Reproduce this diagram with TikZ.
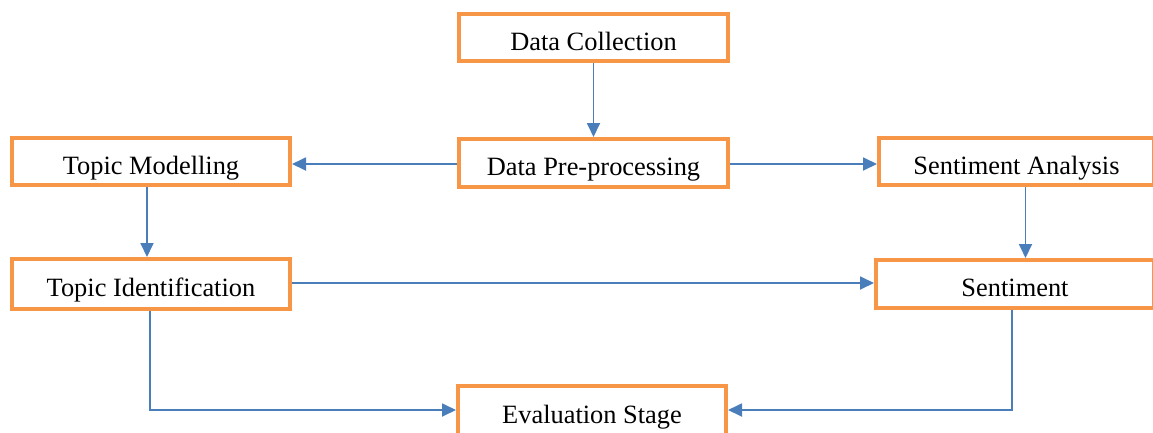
\documentclass[tikz,border=0pt]{standalone}
\usepackage{fontspec}
\setmainfont{Liberation Serif}
\usetikzlibrary{arrows.meta}
\definecolor{boxorange}{HTML}{F79646}
\definecolor{linkblue}{HTML}{4A7EBB}
\tikzset{
  stage/.style={draw=boxorange, line width=4pt, fill=white, inner sep=0pt,
    text height=25pt, text depth=0pt, minimum height=47pt,
    font=\fontsize{26.4}{30}\selectfont},
  link/.style={draw=linkblue, line width=1.8pt,
    -{Triangle[length=14pt,width=13pt]}}
}
\begin{document}
\begin{tikzpicture}[x=1pt,y=-1pt]
\useasboundingbox (0,0) rectangle (1153,432);
\clip (0,0) rectangle (1153,432);
\node[stage, minimum width=269pt] (dc) at (593.5,37.5) {Data Collection};
\node[stage, minimum width=269pt, minimum height=48pt] (pp) at (593.5,163) {Data Pre-processing};
\node[stage, minimum width=278pt] (tm) at (151,161.5) {Topic Modelling};
\node[stage, minimum width=275pt] (sa) at (1016.5,161.5) {Sentiment Analysis};
\node[stage, minimum width=278pt, minimum height=50pt] (ti) at (151,284) {Topic Identification};
\node[stage, minimum width=278pt, minimum height=48pt] (se) at (1015,284) {Sentiment};
\node[stage, minimum width=268pt, minimum height=50pt] (ev) at (592,411) {Evaluation Stage};

\draw[link] (dc.south) -- (pp.north);
\draw[link] ([yshift=-1pt]pp.west) -- ([yshift=-1pt]pp.west -| tm.east);
\draw[link] ([yshift=-1pt]pp.east) -- ([yshift=-1pt]pp.east -| sa.west);
\draw[link] ([xshift=-4pt]tm.south) -- ([xshift=-4pt]ti.north);
\draw[link] ([xshift=9pt]sa.south) -- ([xshift=9pt]sa.south |- se.north);
\draw[link] ([yshift=1pt]ti.east) -- ([yshift=1pt]ti.east -| se.west);
\draw[link] ([xshift=-1pt]ti.south) |- ([yshift=1pt]ev.west);
\draw[link] ([xshift=-3pt]se.south) |- ([yshift=1pt]ev.east);
\end{tikzpicture}
\end{document}
